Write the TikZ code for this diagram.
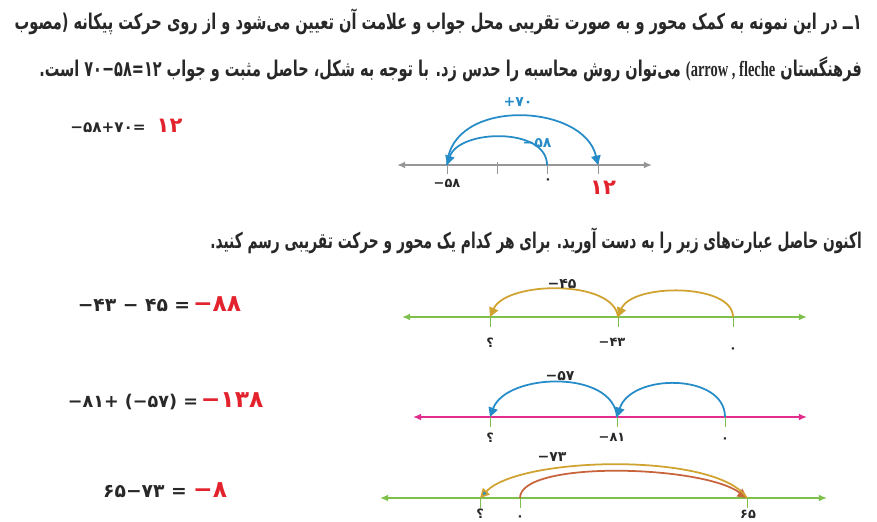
\documentclass[tikz,border=0pt]{standalone}
\usepackage{fontspec}
\usepackage{graphicx}
\usepackage{tikz}
\usetikzlibrary{arrows.meta,positioning}
\newfontfamily\fa[Script=Arabic]{DejaVu Sans}
\newfontfamily\num{DejaVu Sans}
\newfontfamily\lat{Liberation Serif}
\TeXXeTstate=1
\definecolor{inkcolor}{RGB}{40,40,40}
\definecolor{answercolor}{RGB}{226,35,45}
\definecolor{axisgray}{RGB}{150,150,152}
\definecolor{axisgreen}{RGB}{125,192,75}
\definecolor{axispink}{RGB}{226,45,140}
\definecolor{jumpblue}{RGB}{38,140,200}
\definecolor{jumpgold}{RGB}{208,162,48}
\definecolor{jumprust}{RGB}{200,100,60}
\newcommand{\faline}[2]{\resizebox{#1}{\height}{\fa\bfseries #2}}

\begin{document}
\begin{tikzpicture}[x=0.3mm, y=-0.3mm,
    para/.style={anchor=base east, inner sep=0pt, text=inkcolor, font=\fontsize{18.5}{22}\selectfont},
    sum/.style={inner sep=0pt, text=inkcolor, font=\num\bfseries\fontsize{16}{19}\selectfont},
    answer/.style={inner sep=0pt, text=answercolor, font=\num\bfseries\fontsize{20}{24}\selectfont},
    axis/.style={line width=1.6pt, {Latex[length=7pt,width=6pt]}-{Latex[length=7pt,width=6pt]}},
    tick/.style={line width=0.7pt},
    ticklabel/.style={inner sep=0pt, text=inkcolor, font=\num\bfseries\fontsize{11}{13}\selectfont},
    jumplabel/.style={inner sep=0pt, text=inkcolor, font=\num\bfseries\fontsize{12}{14}\selectfont},
    jump/.style={line width=1.5pt, -{Triangle[length=8pt,width=8pt]}},
]
    \useasboundingbox (0,0) rectangle (877,522);

    % Instructions
    \node[para] (intro1) at (862,30) {\faline{723pt}{\beginR ۱ــ در این نمونه به کمک محور و به صورت تقریبی محل جواب و علامت آن تعیین می‌شود و از روی حرکت پیکانه (مصوب\endR}};
    \node[para] (intro2) at (862,77) {\faline{702pt}{\beginR فرهنگستان \beginL{\lat(arrow , fleche}\endL{} می‌توان روش محاسبه را حدس زد. با توجه به شکل، حاصل مثبت و جواب \beginL{\num ۷۰−۵۸=۱۲}\endL{} است.\endR}};
    \node[para] (task) at (862,248) {\faline{556pt}{\beginR اکنون حاصل عبارت‌های زیر را به دست آورید. برای هر کدام یک محور و حرکت تقریبی رسم کنید.\endR}};

    % Worked example
    \node[sum, font=\num\bfseries\fontsize{13}{16}\selectfont] (sum0) at (108,128) {−۵۸+۷۰=};
    \node[answer, font=\num\bfseries\fontsize{18}{22}\selectfont, base right=9pt of sum0] (ans0) {۱۲};

    \coordinate (topL) at (397,165);
    \coordinate (topR) at (652,165);
    \coordinate (top58) at (447,165);
    \coordinate (tophalf) at (497,165);
    \coordinate (top0) at (547,165);
    \coordinate (top12) at (598,165);
    \draw[axis, axisgray, line width=1.8pt] (topL) -- (topR);
    \foreach \t in {top58, tophalf, top0, top12} {
        \draw[tick, axisgray] (\t) ++(0,-3) -- ++(0,12);
    }
    \node[ticklabel] (lbl58) at (447,183) {−۵۸};
    \node[ticklabel] (lbl0) at (548,181) {۰};
    \node[answer, font=\num\bfseries\fontsize{18}{20}\selectfont] (lbl12) at (603,188) {۱۲};
    \draw[jump, jumpblue] (top0) .. controls +(0,-38) and +(12,-36) .. (top58);
    \draw[jump, jumpblue] (top58) .. controls +(4,-68) and +(-14,-62) .. (top12);
    \node[jumplabel, text=jumpblue] (plus70) at (518,102) {+۷۰};
    \node[jumplabel, text=jumpblue] (minus58) at (537,143) {−۵۸};

    % First exercise
    \node[sum] (sum1) at (134,305) {−۴۳ − ۴۵ =};
    \node[answer, base right=2pt of sum1] (ans1) {−۸۸};

    \coordinate (oneL) at (402,317);
    \coordinate (oneR) at (807,317);
    \coordinate (oneq) at (490,317);
    \coordinate (one43) at (618,317);
    \coordinate (one0) at (733,317);
    \draw[axis, axisgreen] (oneL) -- (oneR);
    \foreach \t in {oneq, one43, one0} {
        \draw[tick, axisgreen] (\t) -- ++(0,10);
    }
    \node[ticklabel] (oneqlbl) at (490,343) {؟};
    \node[ticklabel] (one43lbl) at (612,342) {−۴۳};
    \node[ticklabel] (one0lbl) at (733,350) {۰};
    \draw[jump, jumpgold] (one0) .. controls +(0,-34) and +(14,-34) .. (one43);
    \draw[jump, jumpgold] (one43) .. controls +(-4,-38) and +(16,-36) .. (oneq);
    \node[jumplabel] (minus45) at (562,284) {−۴۵};

    % Second exercise
    \node[sum, font=\num\bfseries\fontsize{15}{18}\selectfont] (sum2) at (133,402) {−۸۱+ (−۵۷) =};
    \node[answer, base right=2pt of sum2] (ans2) {−۱۳۸};

    \coordinate (twoL) at (413,417);
    \coordinate (twoR) at (807,417);
    \coordinate (twoq) at (490,417);
    \coordinate (two81) at (617,417);
    \coordinate (two0) at (725,417);
    \draw[axis, axispink] (twoL) -- (twoR);
    \foreach \t in {twoq, two81, two0} {
        \draw[tick, axisgreen] (\t) -- ++(0,10);
    }
    \node[ticklabel] (twoqlbl) at (490,438) {؟};
    \node[ticklabel] (two81lbl) at (612,437) {−۸۱};
    \node[ticklabel] (two0lbl) at (725,440) {۰};
    \draw[jump, jumpblue] (two0) .. controls +(0,-44) and +(14,-44) .. (two81);
    \draw[jump, jumpblue] (two81) .. controls +(-4,-48) and +(16,-44) .. (twoq);
    \node[jumplabel] (minus57) at (560,376) {−۵۷};

    % Third exercise
    \node[sum] (sum3) at (145,492) {۶۵−۷۳ =};
    \node[answer, base right=5pt of sum3] (ans3) {−۸};

    \coordinate (threeL) at (380,498);
    \coordinate (threeR) at (827,498);
    \coordinate (threeq) at (480,498);
    \coordinate (three0) at (520,498);
    \coordinate (three65) at (747,498);
    \draw[axis, axisgreen] (threeL) -- (threeR);
    \foreach \t in {threeq, three0, three65} {
        \draw[tick, axisgreen] (\t) -- ++(0,10);
    }
    \node[ticklabel] (threeqlbl) at (480,514) {؟};
    \node[ticklabel] (three0lbl) at (520,518) {۰};
    \node[ticklabel] (three65lbl) at (748,514) {۶۵};
    \draw[jump, jumprust] (three0) .. controls +(0,-38) and +(-45,-33) .. (three65);
    \draw[jump, jumpgold, -{Triangle[length=8pt,width=8pt,fill=jumpblue]}] (three65) .. controls +(-30,-46) and +(40,-42) .. (threeq);
    \node[jumplabel] (minus73) at (552,457) {−۷۳};
\end{tikzpicture}
\end{document}
